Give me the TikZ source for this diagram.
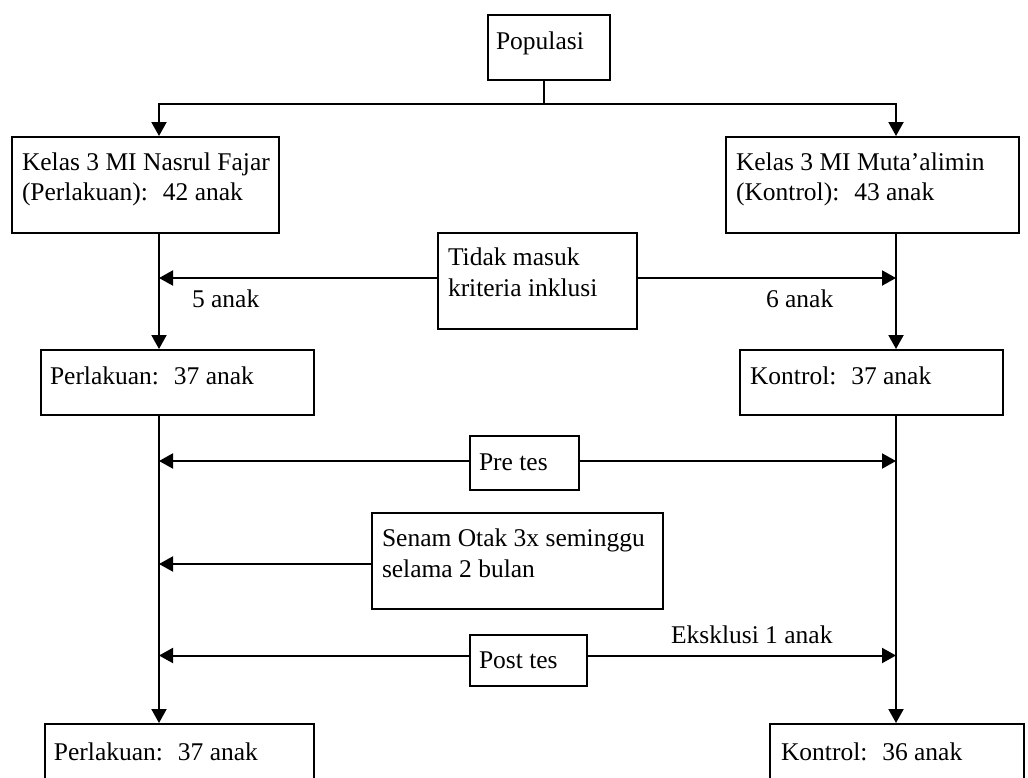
\documentclass[tikz,border=0pt]{standalone}
\usepackage{fontspec}
\setmainfont{Liberation Serif}
\usetikzlibrary{arrows.meta,calc}

\begin{document}
\begin{tikzpicture}[x=0.5pt,y=-0.5pt,
  line width=1pt,
  flow/.style={-{Triangle[length=7pt,width=7.5pt]}},
  box/.style={draw,rectangle,inner sep=0pt,anchor=north west},
  txt/.style={inner sep=0pt,anchor=base west,font=\fontsize{12.75}{15}\selectfont},
]
\useasboundingbox (0,0) rectangle (1028,777);

% boxes: corner at (x,y), size in pixels of the 1028x777 canvas
\newcommand\boxat[5]{\node[box,minimum width=#4*0.5pt,minimum height=#5*0.5pt] (#1) at (#2,#3) {};}
\boxat{pop}{487}{14}{122}{65}
\boxat{kelasA}{11}{136}{267}{96}
\boxat{kelasB}{725}{136}{293}{96}
\boxat{tidak}{437}{232}{199}{96}
\boxat{perA}{40}{349}{273}{65}
\boxat{konB}{739}{349}{263}{65}
\boxat{pre}{469}{435}{109}{54}
\boxat{senam}{371}{512}{291}{96}
\boxat{post}{469}{634}{117}{51}
\boxat{perEnd}{44}{723}{269}{80}
\boxat{konEnd}{769}{723}{254}{80}

% texts
\node[txt] (tpop) at (495,49) {Populasi};
\node[txt] (tka1) at (21,170) {Kelas 3 MI Nasrul Fajar};
\node[txt] (tka2) at (21,200) {(Perlakuan):~ 42 anak};
\node[txt] (tkb1) at (735,170) {Kelas 3 MI Muta’alimin};
\node[txt] (tkb2) at (735,200) {(Kontrol):~ 43 anak};
\node[txt] (tti1) at (447,265) {Tidak masuk};
\node[txt] (tti2) at (447,296) {kriteria inklusi};
\node[txt] (tfive) at (191,307) {5 anak};
\node[txt] (tsix) at (765,307) {6 anak};
\node[txt] (tpa) at (49,384) {Perlakuan:~ 37 anak};
\node[txt] (tkb) at (749,384) {Kontrol:~ 37 anak};
\node[txt] (tpre) at (478,470) {Pre tes};
\node[txt] (tsn1) at (381,546) {Senam Otak 3x seminggu};
\node[txt] (tsn2) at (381,577) {selama 2 bulan};
\node[txt] (tpost) at (478,668) {Post tes};
\node[txt] (teks) at (670,643) {Eksklusi 1 anak};
\node[txt] (tpe) at (53,760) {Perlakuan:~ 37 anak};
\node[txt] (tke) at (780,760) {Kontrol:~ 36 anak};

% the two vertical flow lines
\coordinate (colA) at (159,0);
\coordinate (colB) at (896,0);
\coordinate (split) at (544,104);

% where the side arrows leave their boxes
\coordinate (tidW) at ($(tidak.west)+(0,-3)$);
\coordinate (tidE) at ($(tidak.east)+(0,-3)$);
\coordinate (preW) at ($(pre.west)+(0,-2)$);
\coordinate (preE) at ($(pre.east)+(0,-2)$);
\coordinate (senW) at ($(senam.west)+(0,3)$);
\coordinate (postW) at ($(post.west)+(0,-5)$);
\coordinate (postE) at ($(post.east)+(0,-5)$);

% Populasi splits into both groups
\draw (pop.south -| split) -- (split);
\draw[flow] (split) -- (split -| colA) -- (kelasA.north -| colA);
\draw[flow] (split) -- (split -| colB) -- (kelasB.north -| colB);

% groups down to the included samples
\draw[flow] (kelasA.south -| colA) -- (perA.north -| colA);
\draw[flow] (kelasB.south -| colB) -- (konB.north -| colB);
\draw[flow] (tidW) -- (tidW -| colA);
\draw[flow] (tidE) -- (tidE -| colB);

% included samples down to the final samples
\draw[flow] (perA.south -| colA) -- (perEnd.north -| colA);
\draw[flow] (konB.south -| colB) -- (konEnd.north -| colB);

% tests and treatment
\draw[flow] (preW) -- (preW -| colA);
\draw[flow] (preE) -- (preE -| colB);
\draw[flow] (senW) -- (senW -| colA);
\draw[flow] (postW) -- (postW -| colA);
\draw[flow] (postE) -- (postE -| colB);
\end{tikzpicture}
\end{document}
